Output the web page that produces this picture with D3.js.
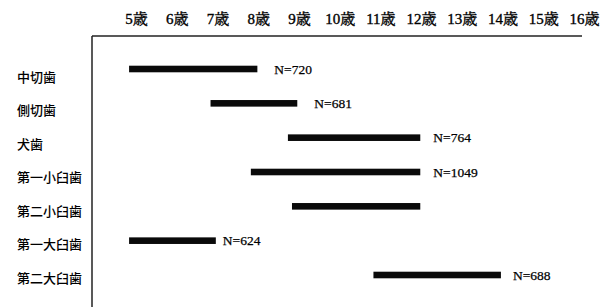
<!DOCTYPE html>
<html><head><meta charset="utf-8">
<script src="https://cdn.jsdelivr.net/npm/d3@7"></script>
<style>
html,body{margin:0;padding:0;background:#fff;}
svg{display:block;}
</style></head>
<body>
<script>
// ---- data ----
const teeth = ["中切歯","側切歯","犬歯","第一小臼歯","第二小臼歯","第一大臼歯","第二大臼歯"];
const startAge = [4.83, 6.83, 8.73, 7.82, 8.83, 4.83, 10.83];
const endAge   = [7.98, 8.96, 11.98, 11.98, 11.98, 6.96, 13.96];
const nLabels  = ["N=720","N=681","N=764","N=1049","","N=624","N=688"];
const ageTicks = [5,6,7,8,9,10,11,12,13,14,15,16];
const tickSuffix = "歳";

// ---- style / layout ----
const W = 610, H = 307;
const labelGap = [17, 17, 13, 13, 13, 7, 12];

const svg = d3.select("body").append("svg").attr("width", W).attr("height", H);

const x = d3.scaleLinear().domain([5,16]).range([136,584]);
const yBar = d3.scalePoint().domain(teeth).range([69,275]);
const yLab = d3.scalePoint().domain(teeth).range([77,278]);

const serif = "'Liberation Serif','Times New Roman','Noto Serif CJK JP','Noto Sans CJK JP',serif";
const sans = "'Noto Sans CJK JP','Noto Sans',sans-serif";

// top axis labels
const axis = d3.axisTop(x).tickValues(ageTicks).tickSize(0).tickPadding(12.5)
  .tickFormat(d => d + tickSuffix);
const gAxis = svg.append("g").attr("transform","translate(0,36)").call(axis);
gAxis.select(".domain").remove();
gAxis.selectAll("text").attr("font-family", serif).attr("font-size", 15).attr("fill","#000")
  .attr("stroke","#000").attr("stroke-width",0.35);

// frame
svg.append("line").attr("x1",92).attr("x2",582).attr("y1",36).attr("y2",36)
  .attr("stroke","#222").attr("stroke-width",1.5);
svg.append("line").attr("x1",92).attr("x2",92).attr("y1",36).attr("y2",H)
  .attr("stroke","#222").attr("stroke-width",1.5);

// row labels
svg.append("g").selectAll("text").data(teeth).join("text")
  .attr("x",17).attr("y", d => yLab(d)).attr("dy","0.36em")
  .attr("font-family", sans).attr("font-size",13).attr("font-weight",500).attr("fill","#000")
  .text(d => d);

// bars
const rows = teeth.map((t,i) => ({t, s:startAge[i], e:endAge[i], n:nLabels[i], g:labelGap[i]}));
svg.append("g").selectAll("rect").data(rows).join("rect")
  .attr("x", d => x(d.s)).attr("width", d => x(d.e)-x(d.s))
  .attr("y", d => yBar(d.t)-3.3).attr("height",6.6)
  .attr("fill","#0a0a0a");

// N labels
svg.append("g").selectAll("text").data(rows.filter(d=>d.n)).join("text")
  .attr("x", d => x(d.e)+d.g).attr("y", d => yBar(d.t)).attr("dy","0.35em")
  .attr("font-family", serif).attr("font-size",13.5).attr("fill","#000")
  .attr("stroke","#000").attr("stroke-width",0.25)
  .text(d => d.n);
</script>
</body></html>
